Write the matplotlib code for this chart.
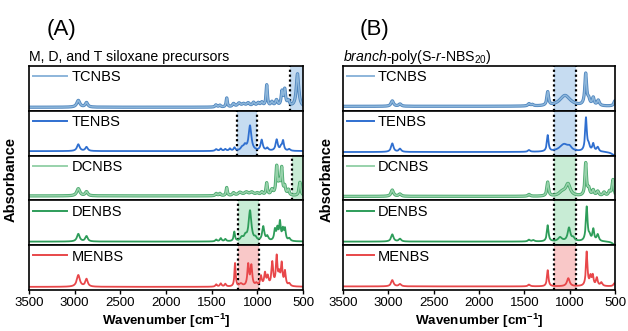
import numpy as np
import matplotlib.pyplot as plt
from matplotlib import patheffects as pe

plt.rcParams['font.family'] = ['Liberation Sans', 'DejaVu Sans']
plt.rcParams['mathtext.fontset'] = 'custom'
plt.rcParams['mathtext.rm'] = 'Liberation Sans'
plt.rcParams['mathtext.it'] = 'Liberation Sans:italic'
plt.rcParams['mathtext.bf'] = 'Liberation Sans:bold'

# sample names, top to bottom
names = ['TCNBS', 'TENBS', 'DCNBS', 'DENBS', 'MENBS']
line_colors = ['#8db6da', '#2f6fd0', '#98d2ab', '#2e9d5a', '#e8474a']
edge_colors = ['#4f86bf', None, '#4aa96d', None, None]
shade_colors = ['#c6dcf1', '#c6dcf1', '#c8ecd5', '#c8ecd5', '#f9c8c8']

# peaks: (wavenumber, height above baseline, half width)
baseA = [0.08, 0.10, 0.10, 0.08, 0.07]
peaksA = [
    [(2960, 0.15, 20), (2870, 0.1, 16), (1452, 0.05, 11), (1410, 0.04, 11), (1335, 0.2, 8),
     (1260, 0.07, 14), (1200, 0.08, 20), (1150, 0.06, 20), (1100, 0.08, 20), (1040, 0.09, 16),
     (990, 0.08, 16), (950, 0.09, 14), (897, 0.48, 9), (840, 0.1, 14), (790, 0.14, 14),
     (730, 0.32, 11), (700, 0.36, 11), (660, 0.12, 14), (560, 0.74, 16)],
    [(2960, 0.15, 18), (2870, 0.09, 16), (1450, 0.04, 14), (1400, 0.05, 11), (1350, 0.04, 11),
     (1300, 0.05, 11), (1250, 0.07, 11), (1165, 0.07, 20), (1135, 0.1, 16), (1080, 0.56, 18),
     (952, 0.24, 14), (890, 0.06, 14), (788, 0.25, 14), (740, 0.08, 11), (718, 0.22, 11),
     (650, 0.04, 14)],
    [(2960, 0.16, 20), (2870, 0.09, 16), (1450, 0.05, 11), (1410, 0.05, 11), (1335, 0.18, 8),
     (1260, 0.06, 14), (1190, 0.07, 25), (1120, 0.07, 25), (1060, 0.07, 25), (1000, 0.05, 20),
     (950, 0.07, 14), (897, 0.27, 9), (840, 0.12, 14), (788, 0.62, 10), (760, 0.24, 11),
     (733, 0.58, 10), (700, 0.18, 11), (660, 0.12, 11), (533, 0.3, 11)],
    [(2960, 0.17, 18), (2870, 0.12, 16), (1450, 0.04, 11), (1400, 0.07, 11), (1350, 0.05, 11),
     (1252, 0.21, 9), (1170, 0.08, 20), (1130, 0.1, 16), (1080, 0.68, 18), (1020, 0.06, 14),
     (935, 0.32, 14), (890, 0.1, 14), (807, 0.24, 11), (780, 0.26, 11), (752, 0.4, 10),
     (720, 0.24, 11), (697, 0.25, 10), (650, 0.06, 14)],
    [(2960, 0.26, 20), (2870, 0.17, 16), (1450, 0.05, 11), (1400, 0.07, 11), (1350, 0.06, 11),
     (1244, 0.52, 8), (1180, 0.06, 20), (1100, 0.48, 11), (1065, 0.45, 11), (1010, 0.06, 14),
     (960, 0.22, 11), (916, 0.28, 11), (886, 0.2, 11), (836, 0.52, 11), (788, 0.64, 10),
     (760, 0.24, 11), (733, 0.48, 10), (697, 0.32, 10), (650, 0.06, 14)],
]
regionsA = [(642, 500), (1220, 1000), (617, 500), (1208, 981), (1208, 981)]

baseB = [0.10, 0.08, 0.09, 0.08, 0.08]
peaksB = [
    [(2956, 0.12, 16), (2871, 0.05, 16), (1448, 0.05, 14), (1410, 0.03, 14), (1242, 0.3, 11),
     (1051, 0.24, 70), (823, 0.7, 12), (790, 0.12, 14), (740, 0.17, 12), (684, 0.12, 14),
     (500, 0.12, 14)],
    [(2956, 0.19, 16), (2871, 0.07, 16), (1448, 0.04, 14), (1242, 0.36, 11), (1062, 0.17, 60),
     (1000, 0.07, 25), (820, 0.74, 11), (790, 0.12, 14), (740, 0.17, 12), (690, 0.1, 14),
     (500, -0.08, 40)],
    [(2956, 0.14, 16), (2871, 0.05, 16), (1448, 0.04, 14), (1242, 0.31, 11), (1080, 0.09, 40),
     (1018, 0.26, 30), (823, 0.72, 10), (790, 0.15, 14), (740, 0.12, 12), (690, 0.1, 14),
     (620, 0.08, 14), (560, 0.1, 14), (522, 0.36, 11)],
    [(2956, 0.16, 16), (2871, 0.06, 16), (1448, 0.04, 14), (1400, 0.03, 14), (1242, 0.36, 11),
     (1106, 0.09, 25), (1007, 0.3, 18), (960, 0.07, 18), (812, 0.76, 11), (780, 0.1, 14),
     (739, 0.26, 11), (690, 0.15, 14), (500, -0.08, 30)],
    [(2956, 0.14, 16), (2871, 0.05, 16), (1448, 0.04, 14), (1242, 0.36, 10), (1015, 0.18, 18),
     (812, 0.76, 10), (770, 0.2, 11), (745, 0.22, 10), (700, 0.18, 11), (650, 0.08, 14),
     (505, 0.07, 14)],
]
regionsB = [(1175, 930)] * 5

xticks = [3500, 3000, 2500, 2000, 1500, 1000, 500]

wn = np.arange(500, 3501, 1.0)


def spectrum(base, peaks):
    y = np.full_like(wn, base)
    for c, h, w in peaks:
        y += h * w**2 / ((wn - c)**2 + w**2)
    return y


def panel(fig, left, right, bases, peaks, regions, edge_lines, handlelen):
    gs = fig.add_gridspec(5, 1, left=left, right=right, top=0.8006, bottom=0.1239, hspace=0)
    axes = []
    for i in range(5):
        ax = fig.add_subplot(gs[i])
        lo, hi = regions[i]
        ax.axvspan(lo, hi, color=shade_colors[i], lw=0)
        for x in edge_lines[i]:
            ax.axvline(x, color='k', ls=(0, (1, 1.2)), lw=1.6)
        y = spectrum(bases[i], peaks[i])
        if edge_colors[i]:
            ax.plot(wn, y, color=line_colors[i], lw=1.1, label=names[i],
                    path_effects=[pe.Stroke(linewidth=2.3, foreground=edge_colors[i]), pe.Normal()])
        else:
            ax.plot(wn, y, color=line_colors[i], lw=1.3, label=names[i])
        leg = ax.legend(loc='upper left', frameon=False, fontsize=10.5, handlelength=handlelen,
                        handletextpad=0.3, borderaxespad=0.1, borderpad=0.2)
        leg.legend_handles[0].set_path_effects([])
        leg.legend_handles[0].set_linewidth(1.4)
        ax.set_xlim(3500, 500)
        ax.set_ylim(0, 1)
        ax.set_yticks([])
        ax.set_xticks(xticks)
        for s in ax.spines.values():
            s.set_linewidth(1.2)
        if i < 4:
            ax.tick_params(axis='x', length=0, labelbottom=False)
        else:
            ax.tick_params(axis='x', direction='out', length=3, width=1, labelsize=9.5, pad=2)
        axes.append(ax)
    # x label placed by hand so it stays inside the figure
    fig.text((left + right) / 2, 1 - 321 / 331, r'Wavenumber [cm$^{\mathbf{-1}}$]',
             fontsize=9.6, fontweight='bold', ha='center', va='center')
    return axes


fig = plt.figure(figsize=(6.28, 3.31), dpi=100)

linesA = [[642], [1220, 1000], [617], [1208, 981], [1208, 981]]
linesB = [[1175, 930]] * 5
panel(fig, 29 / 628, 303 / 628, baseA, peaksA, regionsA, linesA, 2.3)
panel(fig, 343 / 628, 615 / 628, baseB, peaksB, regionsB, linesB, 1.8)

fig.text(47 / 628, 1 - 29 / 331, '(A)', fontsize=16, va='center')
fig.text(360 / 628, 1 - 29 / 331, '(B)', fontsize=16, va='center')
fig.text(29 / 628, 1 - 61 / 331, 'M, D, and T siloxane precursors', fontsize=10.2, va='baseline')
fig.text(343 / 628, 1 - 61 / 331, r'$\it{branch}$-poly(S-$\it{r}$-NBS$_{20}$)', fontsize=10.2, va='baseline')
fig.text(11 / 628, 1 - 180 / 331, 'Absorbance', rotation=90, fontsize=10.5, fontweight='bold',
         va='center', ha='center')
fig.text(327 / 628, 1 - 180 / 331, 'Absorbance', rotation=90, fontsize=10.5, fontweight='bold',
         va='center', ha='center')

fig.savefig('out.png', dpi=100)
